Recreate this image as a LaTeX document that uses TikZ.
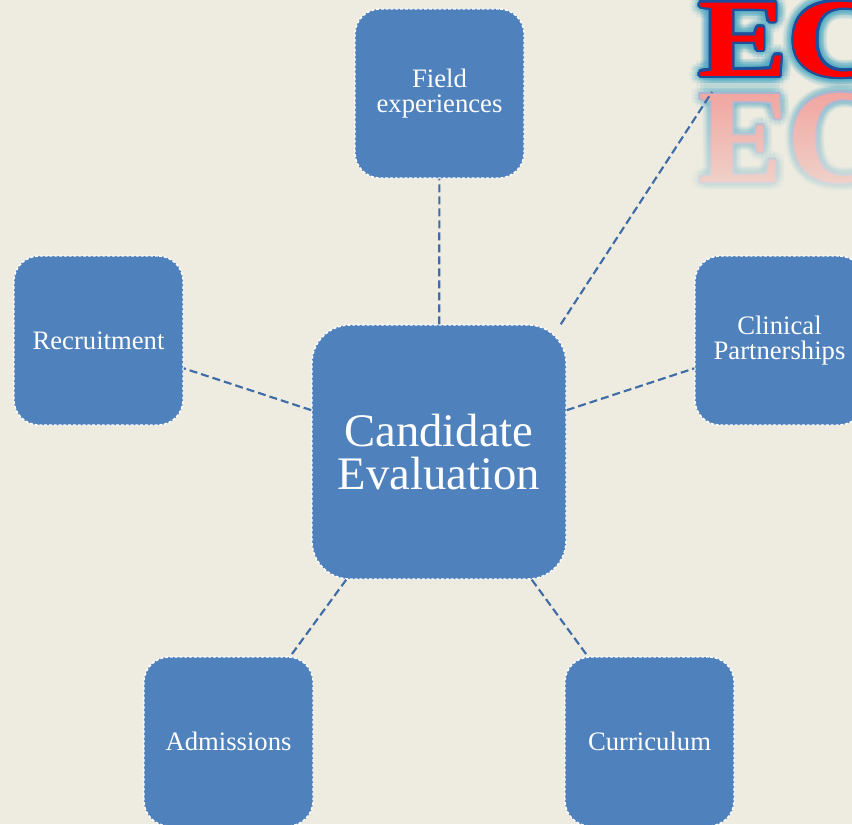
\documentclass[tikz,border=0pt]{standalone}
\usepackage{fontspec}
\setmainfont{Liberation Serif}
\usepackage{tikz}
\usetikzlibrary{calc, fadings}
\definecolor{bg}{HTML}{EEECE1}
\definecolor{boxblue}{HTML}{4F81BD}
\definecolor{linkblue}{HTML}{3F6BA6}
\definecolor{edblue}{HTML}{1C4F9C}
\definecolor{edglow}{HTML}{4FAAC4}
\definecolor{edpink}{HTML}{F2A39F}
\definecolor{edpinkline}{HTML}{A9B3D2}
\tikzfading[name=reflfade, top color=transparent!100, bottom color=transparent!25]

\begin{document}
\begin{tikzpicture}[x=0.75pt, y=-0.75pt,
  box/.style={draw=white, fill=boxblue, line width=1.1pt, dash pattern=on 2.2pt off 1.4pt,
    rounded corners=18.75pt, minimum width=126.75pt, minimum height=126.75pt, inner sep=2pt,
    text=white, align=center, font=\fontsize{20}{19}\selectfont},
  bigbox/.style={box, rounded corners=28.5pt, minimum width=190.5pt, minimum height=190.5pt,
    font=\fontsize{35}{32}\selectfont},
  link/.style={draw=linkblue, line width=1.6pt, dash pattern=on 6pt off 3pt},
  ed/.style={inner sep=0pt, anchor=base west, xscale=1.2, font=\fontsize{84}{84}\selectfont\bfseries}]
\fill[bg] (0,0) rectangle (852,824);
\useasboundingbox (0,0) rectangle (852,824);
\clip (0,0) rectangle (852,824);

\coordinate (edbase) at (698,76);
\coordinate (edmirror) at (698,94);
\coordinate (edtip) at (712,92);

\foreach \r/\o in {9/0.08,6/0.1} \foreach \a in {0,30,...,330}
  \node[ed, yscale=-1.2, text=edglow, opacity=\o] at ([shift={(\a:\r)}]edmirror) {EC};
\foreach \a in {0,45,...,315}
  \node[ed, yscale=-1.2, text=edpinkline] at ([shift={(\a:2)}]edmirror) {EC};
\node[ed, yscale=-1.2, text=edpink] at (edmirror) {EC};
\fill[bg, path fading=reflfade] (680,88) rectangle (852,200);

\foreach \r/\o in {11/0.1,8/0.14,5/0.2} \foreach \a in {0,22.5,...,337.5}
  \node[ed, text=edglow, opacity=\o] at ([shift={(\a:\r)}]edbase) {EC};
\foreach \a in {0,30,...,330}
  \node[ed, text=edblue] at ([shift={(\a:2.4)}]edbase) {EC};
\node[ed, text=red] (ed) at (edbase) {EC};

\node[bigbox] (cand) at (439,452) {Candidate\\Evaluation};
\node[box] (field) at (439.5,93.5) {Field\\experiences};
\node[box] (recr) at (98.5,340.5) {Recruitment};
\node[box] (clin) at (779.5,340.5) {Clinical\\Partnerships};
\node[box] (adm) at (228.5,741.5) {Admissions};
\node[box] (curr) at (649.5,741.5) {Curriculum};

\draw[link] (cand) -- (field);
\draw[link] (cand) -- (recr);
\draw[link] (cand) -- (clin);
\draw[link] (cand) -- (adm);
\draw[link] (cand) -- (curr);
\draw[link] ([xshift=-4.5pt]cand.north east) -- (edtip);
\end{tikzpicture}
\end{document}
